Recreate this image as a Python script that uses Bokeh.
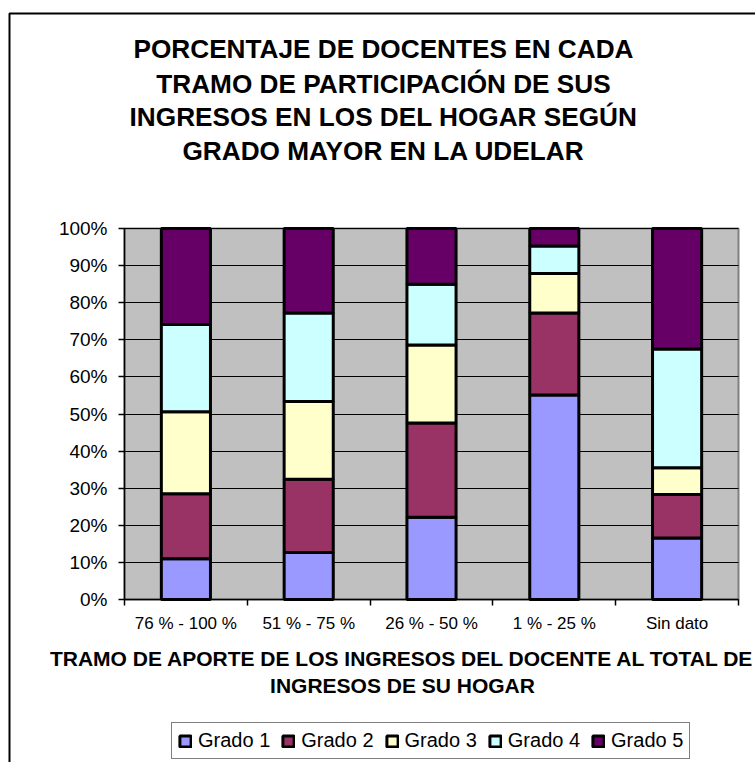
from bokeh.plotting import figure
from bokeh.models import (ColumnDataSource, FixedTicker, PrintfTickFormatter, Label,
                          Legend, LegendItem, BoxAnnotation, Range1d)
from bokeh.embed import file_html
from bokeh.resources import INLINE

# ---- data (percent of teachers) ----
categories = ["76 % - 100 %", "51 % - 75 %", "26 % - 50 %", "1 % - 25 %", "Sin dato"]
series_names = ["Grado 1", "Grado 2", "Grado 3", "Grado 4", "Grado 5"]
grado_1 = [11.0, 12.7, 22.2, 55.1, 16.6]
grado_2 = [17.5, 19.7, 25.4, 22.1, 11.7]
grado_3 = [22.1, 21.0, 21.0, 10.7, 7.2]
grado_4 = [23.5, 23.8, 16.4, 7.4, 32.0]
grado_5 = [25.9, 22.8, 15.0, 4.7, 32.5]
y_ticks = [0, 10, 20, 30, 40, 50, 60, 70, 80, 90, 100]

title_lines = ["PORCENTAJE DE DOCENTES EN CADA",
               "TRAMO DE PARTICIPACIÓN DE SUS",
               "INGRESOS EN LOS DEL HOGAR SEGÚN",
               "GRADO MAYOR EN LA UDELAR"]
xlabel_lines = ["TRAMO DE APORTE DE LOS INGRESOS DEL DOCENTE AL TOTAL DE",
                "INGRESOS DE SU HOGAR"]

colors = ["#9999FF", "#993366", "#FFFFCC", "#CCFFFF", "#660066"]
FONT = "Liberation Sans"

# ---- layout (pixels in the page) ----
W, H = 755, 762
PLOT_L, PLOT_R, PLOT_T, PLOT_B = 124, 738, 228, 599

n = len(categories)
centers = [2 * i + 1 for i in range(n)]
bounds = [2 * i for i in range(n + 1)]
x_max = 2 * n
sx = (PLOT_R - PLOT_L) / x_max
sy = (PLOT_B - PLOT_T) / 100.0
x_rng = Range1d(-PLOT_L / sx, x_max + (W - PLOT_R) / sx)
y_rng = Range1d(-(H - PLOT_B) / sy, 100 + PLOT_T / sy)

keys = ["g1", "g2", "g3", "g4", "g5"]
source = ColumnDataSource(dict(x=centers, g1=grado_1, g2=grado_2, g3=grado_3,
                               g4=grado_4, g5=grado_5))

p = figure(width=W, height=H, x_range=x_rng, y_range=y_rng,
           output_backend="svg", toolbar_location=None, min_border=0)
p.background_fill_color = "white"
p.border_fill_color = "white"
p.outline_line_color = None

# plot area
p.quad(left=[0], right=[x_max], bottom=[0], top=[100], fill_color="#C0C0C0",
       line_color="#808080", line_width=2, level="image")

# horizontal grid lines limited to the plot area
p.xgrid.visible = False
g = p.ygrid[0]
if "cross_bounds" in g.properties():
    g.ticker = FixedTicker(ticks=y_ticks, minor_ticks=[])
    g.bounds = (0, 100)
    g.cross_bounds = (0, x_max)
    g.grid_line_color = "black"
    g.grid_line_width = 1.2
else:
    g.visible = False
    p.segment(x0=[0] * len(y_ticks), x1=[x_max] * len(y_ticks), y0=y_ticks, y1=y_ticks,
              line_color="black", line_width=1.2)

renderers = p.vbar_stack(keys, x="x", width=0.8, source=source, color=colors,
                         line_color="black", line_width=3)

# x axis: labels at category centres, tick marks at category boundaries
xa = p.xaxis[0]
xa.fixed_location = 0
xa.bounds = (0, x_max)
xa.ticker = FixedTicker(ticks=centers, minor_ticks=bounds)
xa.major_label_overrides = {c: lab for c, lab in zip(centers, categories)}
xa.major_tick_line_color = None
xa.minor_tick_line_color = "black"
xa.minor_tick_in = 0
xa.minor_tick_out = 6
xa.minor_tick_line_width = 1.5
xa.axis_line_color = "black"
xa.axis_line_width = 1.5
xa.major_label_text_font = FONT
xa.major_label_text_font_size = "17px"
xa.major_label_text_color = "black"
xa.major_label_standoff = 8

ya = p.yaxis[0]
ya.fixed_location = 0
ya.bounds = (0, 100)
ya.ticker = FixedTicker(ticks=y_ticks, minor_ticks=[])
ya.formatter = PrintfTickFormatter(format="%d%%")
ya.major_tick_in = 0
ya.major_tick_out = 6
ya.major_tick_line_width = 1.5
ya.minor_tick_line_color = None
ya.axis_line_color = "black"
ya.axis_line_width = 1.5
ya.major_label_text_font = FONT
ya.major_label_text_font_size = "19px"
ya.major_label_text_color = "black"
ya.major_label_standoff = 11

# outer chart border (continues past the right and bottom edges)
p.add_layout(BoxAnnotation(left=9, right=W + 60, top=H - 13, bottom=-60,
                           left_units="screen", right_units="screen",
                           top_units="screen", bottom_units="screen",
                           fill_alpha=0, line_color="black", line_alpha=1,
                           line_width=2))

title_centers = [48.3, 83.0, 116.5, 150.5]
for t, yc in zip(title_lines, title_centers):
    p.add_layout(Label(x=383, y=H - yc, x_units="screen", y_units="screen",
                       text=t, text_align="center", text_baseline="alphabetic",
                       text_font=FONT, text_font_style="bold",
                       text_font_size="26.2px", text_color="black"))

xlabel_centers = [658.3, 685.3]
for t, yc in zip(xlabel_lines, xlabel_centers):
    p.add_layout(Label(x=402, y=H - yc, x_units="screen", y_units="screen",
                       text=t, text_align="center", text_baseline="alphabetic",
                       text_font=FONT, text_font_style="bold",
                       text_font_size="21px", text_color="black"))

legend = Legend(items=[LegendItem(label=nm, renderers=[r])
                       for nm, r in zip(series_names, renderers)],
                orientation="horizontal", location=(171, H - 759),
                label_text_font=FONT, label_text_font_size="20px",
                label_text_color="black",
                glyph_width=14, glyph_height=14, label_standoff=6,
                spacing=11, padding=6, margin=0, label_height=20,
                border_line_color="black", border_line_width=1.5,
                background_fill_color="white", background_fill_alpha=1)
p.add_layout(legend)

open("out.html", "w").write(file_html(p, INLINE))
